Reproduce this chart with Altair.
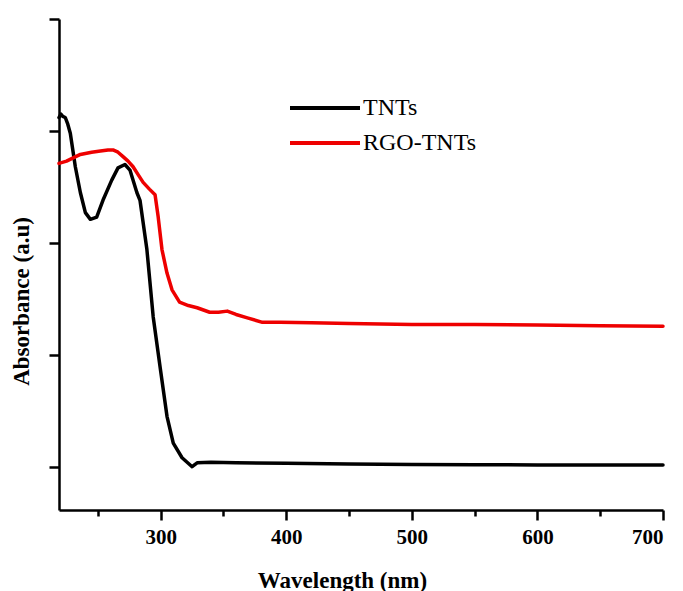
import altair as alt
import pandas as pd

# UV-vis absorption spectra (wavelength in nm, absorbance in arbitrary units)
wl_tnts = [219, 220.5, 222, 224, 226, 228, 232, 236, 240, 244, 249, 254, 261, 266,
           271.5, 275.5, 281, 283.5, 289, 294, 299.5, 305, 310, 317, 325, 329, 340,
           360, 400, 450, 500, 550, 600, 650, 700]
abs_tnts = [3.12, 3.15, 3.13, 3.12, 3.06, 2.98, 2.68, 2.45, 2.27, 2.21, 2.23, 2.38,
            2.56, 2.67, 2.70, 2.65, 2.45, 2.38, 1.94, 1.34, 0.89, 0.45, 0.21, 0.08,
            0.0, 0.035, 0.04, 0.035, 0.03, 0.025, 0.02, 0.018, 0.016, 0.015, 0.015]

wl_rgo = [219, 225, 236, 245, 252, 258, 262, 266, 270, 274, 278, 282, 286, 291,
          295.5, 298, 301, 305, 309, 315, 322, 329, 339, 346, 353, 360, 369, 381,
          395, 420, 450, 500, 550, 600, 650, 700]
abs_rgo = [2.71, 2.73, 2.79, 2.81, 2.82, 2.83, 2.83, 2.81, 2.77, 2.73, 2.68, 2.61,
           2.54, 2.48, 2.43, 2.23, 1.94, 1.73, 1.58, 1.47, 1.44, 1.42, 1.38, 1.38,
           1.39, 1.36, 1.33, 1.29, 1.29, 1.285, 1.28, 1.27, 1.27, 1.265, 1.26, 1.255]

series = ["TNTs", "RGO-TNTs"]
colors = ["#000000", "#ee0000"]
x_ticks = [250, 300, 350, 400, 450, 500, 550, 600, 650, 700]
y_ticks = [0, 1, 2, 3, 4]

df = pd.concat([
    pd.DataFrame({"wavelength": wl_tnts, "absorbance": abs_tnts, "sample": series[0],
                  "order": range(len(wl_tnts))}),
    pd.DataFrame({"wavelength": wl_rgo, "absorbance": abs_rgo, "sample": series[1],
                  "order": range(len(wl_rgo))}),
])

FONT = "Liberation Serif"

# long horizontal legend stroke drawn as a custom symbol path
LEGEND_LINE = "M-3.5,0H3.5"

chart = alt.Chart(df).mark_line(strokeWidth=3.5, strokeJoin="round", strokeCap="round").encode(
    x=alt.X("wavelength:Q",
            scale=alt.Scale(domain=[219, 700], nice=False, zero=False),
            axis=alt.Axis(values=x_ticks, title="Wavelength (nm)",
                          labelExpr="datum.value % 100 === 0 ? datum.label : ''",
                          tickSize={"condition": {"test": "datum.value % 100 === 0", "value": 10}, "value": 6},
                          labelPadding=6, titleX=283, titleY=77, titleBaseline="alphabetic",
                          titleAlign="center", grid=False)),
    y=alt.Y("absorbance:Q",
            scale=alt.Scale(domain=[-0.387, 4], nice=False, zero=False),
            axis=alt.Axis(values=y_ticks, labels=False, tickSize=10,
                          title="Absorbance (a.u)", titleX=-38, titleY=282,
                          titleBaseline="middle", titleAlign="center", grid=False)),
    color=alt.Color("sample:N",
                    scale=alt.Scale(domain=series, range=colors),
                    legend=alt.Legend(title=None, orient="none", legendX=254, legendY=77,
                                      symbolType=LEGEND_LINE, symbolSize=400,
                                      symbolStrokeWidth=4, labelFont=FONT,
                                      labelFontSize=24, labelOffset=26, rowPadding=11)),
    order="order:Q",
).properties(
    width=604, height=491,
    autosize=alt.AutoSizeParams(type="none"),
    padding={"left": 59, "top": 19, "right": 20, "bottom": 81},
    background="white",
).configure_view(stroke=None).configure_axis(
    domainColor="black", domainWidth=2.5, tickColor="black", tickWidth=2.5,
    labelFont=FONT, labelFontSize=21, labelFontWeight="bold", labelColor="black",
    titleFont=FONT, titleFontSize=23, titleFontWeight="bold", titleColor="black",
)

chart.save("out.html", embed_options={"renderer": "svg", "actions": False})
